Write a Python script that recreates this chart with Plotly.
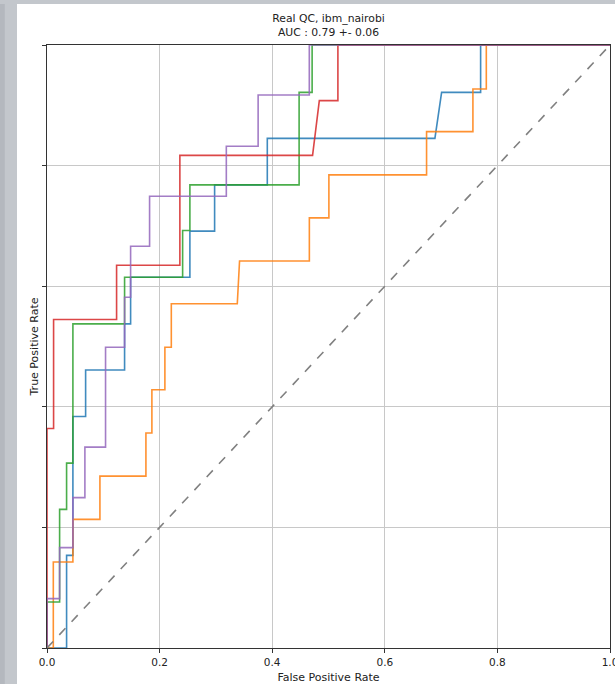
import plotly.graph_objects as go

# ROC curves (FPR, TPR)
fpr_c0 = [0, 0.0348, 0.0348, 0.046, 0.046, 0.0686, 0.0686, 0.1378, 0.1378, 0.1485, 0.1485, 0.2538, 0.2538, 0.2977, 0.2977, 0.3913, 0.3913, 0.689, 0.7009, 0.7702, 0.7702, 1.0]
tpr_c0 = [0, 0, 0.1536, 0.1536, 0.384, 0.384, 0.461, 0.461, 0.5376, 0.5376, 0.6148, 0.6148, 0.6914, 0.6914, 0.768, 0.768, 0.8452, 0.8452, 0.9214, 0.9214, 1.0, 1.0]

fpr_c1 = [0, 0.0112, 0.0112, 0.046, 0.046, 0.094, 0.094, 0.1757, 0.1757, 0.1863, 0.1863, 0.2094, 0.2094, 0.2208, 0.2208, 0.338, 0.342, 0.466, 0.466, 0.5007, 0.5007, 0.6742, 0.6742, 0.7565, 0.7565, 0.7803, 0.7803, 1.0]
tpr_c1 = [0, 0, 0.1425, 0.1425, 0.2133, 0.2133, 0.285, 0.285, 0.3566, 0.3566, 0.4282, 0.4282, 0.4988, 0.4988, 0.5708, 0.5708, 0.6417, 0.6417, 0.7133, 0.7133, 0.7846, 0.7846, 0.8563, 0.8563, 0.9271, 0.9271, 1.0, 1.0]

fpr_c2 = [0, 0, 0.0224, 0.0224, 0.0348, 0.0348, 0.046, 0.046, 0.1378, 0.1378, 0.2409, 0.2409, 0.2538, 0.2538, 0.4478, 0.4478, 0.4709, 0.4709, 1.0]
tpr_c2 = [0, 0.0762, 0.0762, 0.2299, 0.2299, 0.3066, 0.3066, 0.5376, 0.5376, 0.6148, 0.6148, 0.6923, 0.6923, 0.768, 0.768, 0.9214, 0.9214, 1.0, 1.0]

fpr_c3 = [0, 0, 0.0117, 0.0117, 0.1236, 0.1236, 0.236, 0.236, 0.4717, 0.4837, 0.5167, 0.5167, 1.0]
tpr_c3 = [0, 0.3641, 0.3641, 0.5447, 0.5447, 0.6347, 0.6347, 0.817, 0.817, 0.9077, 0.9077, 1.0, 1.0]

fpr_c4 = [0, 0, 0.0224, 0.0224, 0.046, 0.046, 0.0673, 0.0673, 0.104, 0.104, 0.1378, 0.1378, 0.1485, 0.1485, 0.1822, 0.1822, 0.3185, 0.3185, 0.375, 0.375, 0.4659, 0.4659, 1.0]
tpr_c4 = [0, 0.0819, 0.0819, 0.1664, 0.1664, 0.2493, 0.2493, 0.3331, 0.3331, 0.4988, 0.4988, 0.5817, 0.5817, 0.6662, 0.6662, 0.7491, 0.7491, 0.832, 0.832, 0.9171, 0.9171, 1.0, 1.0]

chance_x = [0, 1]
chance_y = [0, 1]

colors = ["#1f77b4", "#ff7f0e", "#2ca02c", "#d62728", "#9467bd"]
curves = [(fpr_c0, tpr_c0), (fpr_c1, tpr_c1), (fpr_c2, tpr_c2), (fpr_c3, tpr_c3), (fpr_c4, tpr_c4)]

x_ticks = [0.0, 0.2, 0.4, 0.6, 0.8, 1.0]
y_ticks = [0.0, 0.2, 0.4, 0.6, 0.8, 1.0]

fig = go.Figure()
for (fx, fy), c in zip(curves, colors):
    fig.add_trace(go.Scatter(x=fx, y=fy, mode="lines",
                             line=dict(color=c, width=1.6), opacity=0.85,
                             showlegend=False, cliponaxis=False))
fig.add_trace(go.Scatter(x=chance_x, y=chance_y, mode="lines",
                         line=dict(color="#808080", width=1.6, dash="dash"),
                         showlegend=False))

# screenshot-like grey frame on the left and top
fig.add_shape(type="rect", xref="paper", yref="paper", x0=-0.09, x1=-0.0533,
              y0=-0.07, y1=1.08, fillcolor="#c3c7cc", line=dict(width=0), layer="below")
fig.add_shape(type="rect", xref="paper", yref="paper", x0=-0.09, x1=-0.075,
              y0=-0.07, y1=1.08, fillcolor="#b4b8be", line=dict(width=0), layer="below")
fig.add_shape(type="rect", xref="paper", yref="paper", x0=-0.09, x1=1.02,
              y0=1.068, y1=1.08, fillcolor="#c3c7cc", line=dict(width=0), layer="below")

fig.update_layout(
    width=615, height=684,
    margin=dict(l=47, r=5, t=45, b=36, autoexpand=False),
    paper_bgcolor="white", plot_bgcolor="white",
    font=dict(family="DejaVu Sans", size=10, color="#222222"),
    title=dict(text="Real QC, ibm_nairobi<br>AUC : 0.79 +- 0.06",
               x=(47 + 610) / 2 / 615, xanchor="center",
               y=1 - 22 / 684, yanchor="top", yref="container",
               font=dict(size=10.8, color="#222222")),
)
fig.update_xaxes(range=[0, 1], tickvals=x_ticks, ticktext=[f"{v:.1f}" for v in x_ticks],
                 automargin=False, ticklabeloverflow="allow",
                 showgrid=True, gridcolor="#c8c8c8", gridwidth=1, zeroline=False,
                 showline=True, linecolor="#333333", linewidth=1.2, mirror=True,
                 ticks="outside", ticklen=4, tickcolor="#333333",
                 tickfont=dict(size=10.5),
                 title=dict(text="False Positive Rate", standoff=6, font=dict(size=11)))
fig.update_yaxes(range=[0, 1], tickvals=y_ticks, showticklabels=False,
                 automargin=False,
                 showgrid=True, gridcolor="#c8c8c8", gridwidth=1, zeroline=False,
                 showline=True, linecolor="#333333", linewidth=1.2, mirror=True,
                 ticks="outside", ticklen=4, tickcolor="#333333",
                 title=dict(text="True Positive Rate", standoff=1, font=dict(size=11)))

fig.write_html("out.html", config={"displayModeBar": False},
               post_script="document.body.style.margin='0';document.body.style.overflow='hidden';")
